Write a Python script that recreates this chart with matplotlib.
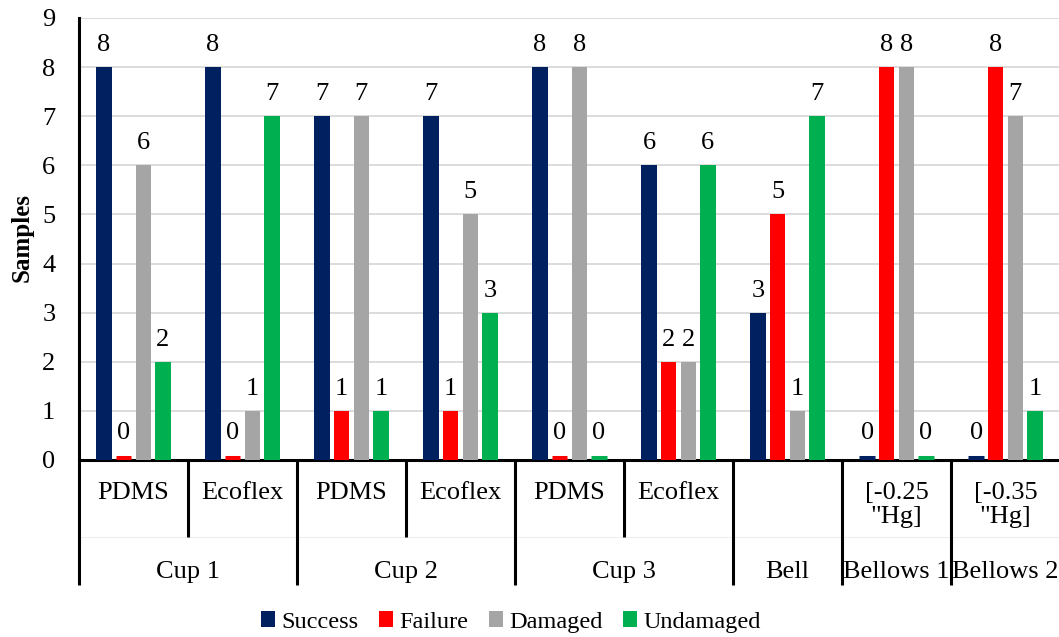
import matplotlib
matplotlib.use("Agg")
import matplotlib.pyplot as plt
from matplotlib.patches import Patch
import numpy as np

plt.rcParams['font.family'] = ['Liberation Serif', 'DejaVu Serif']

# Test outcomes per suction-cup design (number of samples)
designs = ["Cup 1", "Cup 1", "Cup 2", "Cup 2", "Cup 3", "Cup 3", "Bell", "Bellows 1", "Bellows 2"]
sub_labels = ["PDMS", "Ecoflex", "PDMS", "Ecoflex", "PDMS", "Ecoflex", "",
              '[-0.25\n"Hg]', '[-0.35\n"Hg]']
main_labels = ["Cup 1", "Cup 2", "Cup 3", "Bell", "Bellows 1", "Bellows 2"]
main_spans = [(0, 1), (2, 3), (4, 5), (6, 6), (7, 7), (8, 8)]

success = [8, 8, 7, 7, 8, 6, 3, 0, 0]
failure = [0, 0, 1, 1, 0, 2, 5, 8, 8]
damaged = [6, 1, 7, 5, 8, 2, 1, 8, 7]
undamaged = [2, 7, 1, 3, 0, 6, 7, 0, 1]

series = [("Success", success, "#002060"),
          ("Failure", failure, "#FF0000"),
          ("Damaged", damaged, "#A5A5A5"),
          ("Undamaged", undamaged, "#00B050")]

fig = plt.figure(figsize=(10.59, 6.37), dpi=100)
ax = fig.add_axes([79 / 1059, 1 - 460 / 637, 981 / 1059, 442 / 637])

x = np.arange(len(designs))
width = 0.14
offsets = [-0.27, -0.09, 0.09, 0.27]
fs = 19

for (name, vals, color), off in zip(series, offsets):
    xs = x + off
    ax.bar(xs, vals, width=width, color=color, zorder=3)
    for xi, v in zip(xs, vals):
        if v == 0:
            # thin stub so empty categories remain visible
            ax.plot([xi - width / 2, xi + width / 2], [0, 0], color=color,
                    lw=6.5, solid_capstyle='butt', zorder=3)
            extra = 3.5
        else:
            extra = 0
        ax.annotate(str(v), (xi, v), xytext=(0, 8 + extra),
                    textcoords='offset points', ha='center', va='bottom',
                    fontsize=fs)

ax.set_xlim(-0.5, len(designs) - 0.5)
ax.set_ylim(0, 9)
ax.set_yticks(range(10))
ax.yaxis.grid(True, color="#D9D9D9", lw=1.3, zorder=0)
ax.set_axisbelow(True)
ax.tick_params(axis='y', length=0, pad=17, labelsize=fs)
ax.set_xticks([])
for s in ['top', 'right']:
    ax.spines[s].set_visible(False)
for s in ['left', 'bottom']:
    ax.spines[s].set_linewidth(2.2)
    ax.spines[s].set_color('black')
fig.text(22 / 1059, 1 - 238 / 637, "Samples", rotation=90, ha='center',
         va='center', fontsize=18, fontweight='bold')

# two-level category table under the axis
trans = ax.get_xaxis_transform()
y_full = -125 / 442
y_sub = -77 / 442
for b in range(len(designs)):
    xb = b - 0.5
    in_group = any(a < b <= c for a, c in main_spans)
    ybot = y_sub if in_group else y_full
    ax.plot([xb, xb], [0, ybot], transform=trans, color='black', lw=2.2,
            clip_on=False, solid_capstyle='butt')
ax.plot([-0.5, len(designs) - 0.5], [y_sub, y_sub], transform=trans,
        color="#EEEEEE", lw=0.8, clip_on=False, zorder=0)

for xi, lab in zip(x, sub_labels):
    if lab:
        ax.text(xi, -22 / 442, lab, transform=trans, ha='center', va='top',
                fontsize=fs, linespacing=1.12)
for lab, (a, c) in zip(main_labels, main_spans):
    ax.text((a + c) / 2, -112 / 442, lab, transform=trans, ha='center',
            va='center', fontsize=fs)

handles = [Patch(facecolor=c, label=n) for n, _, c in series]
fig.legend(handles=handles, loc='center', bbox_to_anchor=(511 / 1059, 1 - 622 / 637),
           ncol=4, frameon=False, fontsize=17.5, handlelength=0.58, handleheight=0.58,
           handletextpad=0.25, columnspacing=0.85, borderaxespad=0)

fig.savefig("out.png", dpi=100)
